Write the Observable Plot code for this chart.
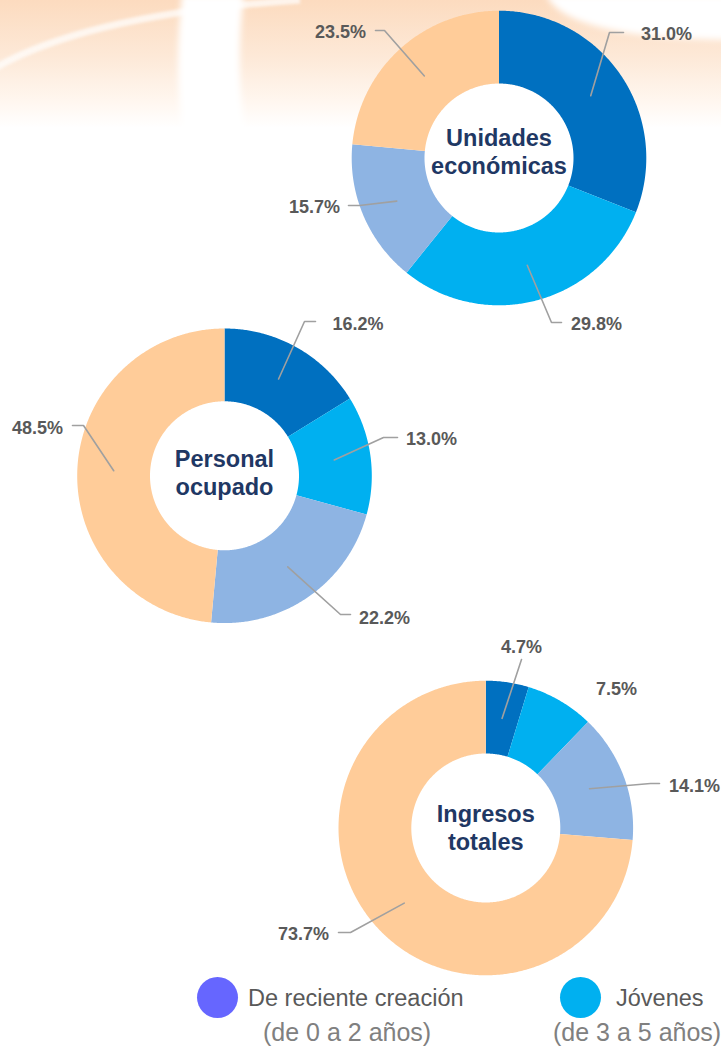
<!DOCTYPE html>
<html>
<head>
<meta charset="utf-8">
<script src="https://cdn.jsdelivr.net/npm/d3@7"></script>
<script src="https://cdn.jsdelivr.net/npm/@observablehq/plot@0.6"></script>
<style>
  html, body { margin: 0; padding: 0; background: #ffffff; width: 721px; height: 1051px; overflow: hidden; }
  #page { position: relative; width: 721px; height: 1051px; font-family: "Liberation Sans", Arial, sans-serif; }
  #bg { position: absolute; left: 0; top: 0; }
  #chart { position: absolute; left: 0; top: 0; }
  #legend { position: absolute; left: 0; top: 975px; width: 721px; height: 76px; overflow: hidden; }
  .dot { position: absolute; width: 41px; height: 41px; border-radius: 50%; }
  .lt { position: absolute; white-space: nowrap; line-height: 1; }
</style>
</head>
<body>
<div id="page">
  <svg id="bg" width="721" height="140" viewBox="0 0 721 140">
    <defs>
      <linearGradient id="peach" x1="0" y1="0" x2="0" y2="1">
        <stop offset="0" stop-color="#FCDBBF"/>
        <stop offset="0.45" stop-color="#FDE9D8"/>
        <stop offset="0.8" stop-color="#FFF7F0"/>
        <stop offset="1" stop-color="#FFFFFF"/>
      </linearGradient>
      <filter id="soft" x="-20%" y="-20%" width="140%" height="140%"><feGaussianBlur stdDeviation="3"/></filter>
      <filter id="soft2" x="-20%" y="-20%" width="140%" height="140%"><feGaussianBlur stdDeviation="1.5"/></filter>
    </defs>
    <rect x="0" y="0" width="721" height="128" fill="url(#peach)"/>
    <path d="M -5 68 Q 90 14 300 0" stroke="#ffffff" stroke-width="7" fill="none" opacity="0.7" filter="url(#soft2)"/>
    <path d="M 182 -5 C 177 40 176 90 184 140 L 246 140 C 238 90 238 40 244 -5 Z" fill="#ffffff" filter="url(#soft)"/>
    <path d="M 546 -5 Q 566 38 730 40 L 730 -5 Z" fill="#ffffff" filter="url(#soft)"/>
  </svg>
  <div id="chart"></div>
  <div id="legend"></div>
</div>
<script>
// ---------------- data ----------------
const segmentIds = ["s1", "s2", "s3", "s4"];
const legendNames = ["De reciente creación", "Jóvenes"];
const legendSubs = ["(de 0 a 2 años)", "(de 3 a 5 años)"];
const panelNames = ["Unidades\neconómicas", "Personal\nocupado", "Ingresos\ntotales"];
const unidadesEconomicas = [31.0, 29.8, 15.7, 23.5];
const personalOcupado = [16.2, 13.0, 22.2, 48.5];
const ingresosTotales = [4.7, 7.5, 14.1, 73.7];

// ---------------- styles / layout ----------------
const sliceColors = ["#0070C0", "#00B0F0", "#8EB4E3", "#FFCC99"];
const legendColors = ["#6666FF", "#00B0F0"];
const W = 721, H = 975;
const donutCenters = [[498.5, 157.5], [224, 475.3], [485.3, 827.5]];
const outerR = 147.3, innerR = 74.5;
const centerLabelDy = [-7, -3.8, -1];
// label placement per panel / slice: text centre t, leader elbow e, leader end h
const labelPlacement = [
  [ {t: [666, 33], e: [609, 32], h: [623, 32]},
    {t: [596, 323], e: [551, 322], h: [561, 322]},
    {t: [314, 206], e: [359, 205], h: [348, 205]},
    {t: [340, 31], e: [384, 30], h: [375, 30]} ],
  [ {t: [357.5, 323], e: [304, 321], h: [315, 321]},
    {t: [431, 438], e: [383, 437], h: [397, 437]},
    {t: [384, 617], e: [340, 614], h: [350, 614]},
    {t: [37, 427], e: [83, 425], h: [72, 425]} ],
  [ {t: [521, 646], e: [521, 659], h: [521, 659]},
    {t: [616, 688], e: null, h: null},
    {t: [694, 785], e: [650, 783], h: [659, 783]},
    {t: [303, 933], e: [350, 932], h: [338, 932]} ]
];
const FONT = "Liberation Sans, Arial, sans-serif";

// ---------------- geometry from data ----------------
const panels = [unidadesEconomicas, personalOcupado, ingresosTotales];
const slices = [];
const leaders = [];
const pctLabels = [];
const holes = [];
const centerLabels = [];
panels.forEach((vals, p) => {
  const [cx, cy] = donutCenters[p];
  const total = d3.sum(vals);
  holes.push({x: cx, y: cy});
  centerLabels.push({x: cx, y: cy + centerLabelDy[p], text: panelNames[p]});
  let acc = 0;
  vals.forEach((v, i) => {
    const a0 = acc / total * 2 * Math.PI;
    acc += v;
    const a1 = acc / total * 2 * Math.PI;
    const n = Math.max(2, Math.ceil((a1 - a0) / (Math.PI / 360)));
    const pts = [];
    for (let k = 0; k <= n; k++) {
      const a = a0 + (a1 - a0) * k / n;
      pts.push({x: cx + outerR * Math.sin(a), y: cy - outerR * Math.cos(a)});
    }
    for (let k = n; k >= 0; k--) {
      const a = a0 + (a1 - a0) * k / n;
      pts.push({x: cx + innerR * Math.sin(a), y: cy - innerR * Math.cos(a)});
    }
    slices.push({pts, color: sliceColors[i]});
    const lp = labelPlacement[p][i];
    pctLabels.push({x: lp.t[0], y: lp.t[1] + 0.6, text: v.toFixed(1) + "%"});
    if (lp.e) {
      const am = (a0 + a1) / 2, rm = (innerR + outerR) / 2;
      const id = `${p}-${segmentIds[i]}`;
      leaders.push({id, x: cx + rm * Math.sin(am), y: cy - rm * Math.cos(am)});
      leaders.push({id, x: lp.e[0], y: lp.e[1]});
      leaders.push({id, x: lp.h[0], y: lp.h[1]});
    }
  });
});

const marks = [
  Plot.dot(holes, {x: "x", y: "y", r: innerR, fill: "#ffffff", stroke: "none"}),
  ...slices.map(s => Plot.line(s.pts, {x: "x", y: "y", fill: s.color, stroke: "none", curve: "linear"})),
  Plot.line(leaders, {x: "x", y: "y", z: "id", stroke: "#A0A0A0", strokeWidth: 1.6, curve: "linear"}),
  Plot.text(pctLabels, {x: "x", y: "y", text: "text", fill: "#595959", fontSize: 18, fontWeight: "bold", fontFamily: FONT, textAnchor: "middle"}),
  Plot.text(centerLabels, {x: "x", y: "y", text: "text", fill: "#1F3864", fontSize: 23.5, fontWeight: "bold", fontFamily: FONT, textAnchor: "middle", lineHeight: 1.19})
];

const chart = Plot.plot({
  width: W, height: H,
  margin: 0,
  x: {domain: [0, W], range: [0, W], axis: null},
  y: {domain: [0, H], range: [0, H], axis: null},
  style: {background: "transparent", overflow: "visible", fontFamily: FONT},
  marks
});
document.getElementById("chart").appendChild(chart);

// ---------------- legend (below the svg) ----------------
const legendLayout = [
  {dot: [196.5, 1.5], name: [248, 11.8], sub: [263, 45.3]},
  {dot: [560, 1.5], name: [616, 11.8], sub: [553, 45.3]}
];
const legend = document.getElementById("legend");
legendNames.forEach((name, i) => {
  const L = legendLayout[i];
  const dot = document.createElement("div");
  dot.className = "dot";
  dot.style.left = L.dot[0] + "px"; dot.style.top = L.dot[1] + "px";
  dot.style.background = legendColors[i];
  legend.appendChild(dot);
  const t1 = document.createElement("div");
  t1.className = "lt";
  t1.style.left = L.name[0] + "px"; t1.style.top = L.name[1] + "px";
  t1.style.fontSize = "23.5px"; t1.style.color = "#595959";
  t1.textContent = name;
  legend.appendChild(t1);
  const t2 = document.createElement("div");
  t2.className = "lt";
  t2.style.left = L.sub[0] + "px"; t2.style.top = L.sub[1] + "px";
  t2.style.fontSize = "25px"; t2.style.color = "#808080";
  t2.textContent = legendSubs[i];
  legend.appendChild(t2);
});
</script>
</body>
</html>
